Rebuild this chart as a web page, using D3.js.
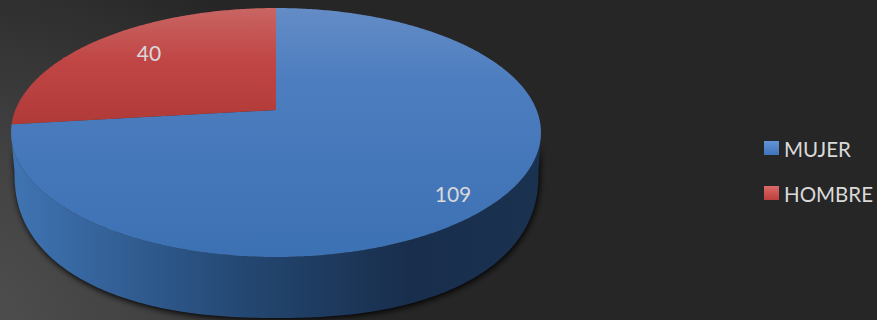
<!DOCTYPE html>
<html>
<head>
<meta charset="utf-8">
<script src="https://cdnjs.cloudflare.com/ajax/libs/d3/7.8.5/d3.min.js"></script>
<style>
  html, body { margin: 0; padding: 0; background: #262626; }
  svg { display: block; }
  text { font-family: Lato, "Open Sans", sans-serif; fill: #d9d9d9; }
</style>
</head>
<body>
<svg id="chart" width="877" height="320"></svg>
<script>
// Survey counts by sex
const categories = ["MUJER", "HOMBRE"];
const values = [109, 40];

const width = 877, height = 320;
const svg = d3.select("#chart");
const defs = svg.append("defs");

function linearGradient(id, x1, y1, x2, y2, stops) {
  const g = defs.append("linearGradient").attr("id", id)
    .attr("gradientUnits", "userSpaceOnUse")
    .attr("x1", x1).attr("y1", y1).attr("x2", x2).attr("y2", y2);
  stops.forEach(([o, c]) => g.append("stop").attr("offset", o).attr("stop-color", c));
}

// Slide-like backdrop, lighter toward the lower left corner
const bg = defs.append("radialGradient").attr("id", "backdrop")
  .attr("gradientUnits", "userSpaceOnUse")
  .attr("cx", -40).attr("cy", 340).attr("r", 420);
[[0, "#505050"], [0.45, "#424242"], [1, "#262626"]].forEach(([o, c]) =>
  bg.append("stop").attr("offset", o).attr("stop-color", c));
svg.append("rect").attr("width", width).attr("height", height).attr("fill", "#262626");
svg.append("rect").attr("width", width).attr("height", height).attr("fill", "url(#backdrop)");

linearGradient("topBlue", 0, 8, 0, 257, [[0, "#648cc6"], [0.3, "#4c7dbf"], [1, "#3c71b4"]]);
linearGradient("topRed", 0, 8, 0, 125, [[0, "#c96563"], [0.45, "#c04645"], [1, "#b03a38"]]);
linearGradient("wallBlue", 15, 0, 540, 0, [[0, "#3f74b2"], [0.2, "#325f95"], [0.45, "#234670"], [0.75, "#182e4c"], [1, "#1a3150"]]);
linearGradient("keyBlue", 0, -7, 0, 7, [[0, "#6494d4"], [1, "#3d74bb"]]);
linearGradient("keyRed", 0, -7, 0, 7, [[0, "#d96a68"], [1, "#bd3f3d"]]);

const blur = defs.append("filter").attr("id", "soft")
  .attr("x", "-10%").attr("y", "-10%").attr("width", "120%").attr("height", "120%");
blur.append("feGaussianBlur").attr("stdDeviation", 3);

// Tilted disc: a unit circle carried to the screen through a perspective map,
// so the nearer half of the ellipse reads larger than the far half.
const cx = 276, radius = 260.6, apexY = 110, slope = 100.55, persp = -0.1807;
const project = a => {
  const u = Math.sin(a), v = -Math.cos(a), w = 1 + persp * v;
  return [cx + radius * u / w, (slope * v + apexY) / w];
};

// Lower rim of the pie: a slightly squared half ellipse, since the far-off base
// bulges a little past a true ellipse under the strong perspective.
const rimCx = 276.5, rimRx = 262, rimY = 172, rimRy = 146, rimPower = 2 / 2.3;
const projectRim = t => {
  const c = Math.cos(t), s = Math.sin(t);
  return [
    rimCx + rimRx * Math.sign(c) * Math.pow(Math.abs(c), rimPower),
    rimY + rimRy * Math.pow(Math.abs(s), rimPower)
  ];
};

const line = d3.line();
const sample = (a0, a1, fn) => {
  const n = Math.max(2, Math.ceil(Math.abs(a1 - a0) * 90));
  return d3.range(n + 1).map(i => fn(a0 + (a1 - a0) * i / n));
};

const arcs = d3.pie().sort(null)(values);
const apex = [cx, apexY];
const fills = ["url(#topBlue)", "url(#topRed)"];

// Front wall runs between the two horizontal extremes of the disc
const frontA0 = Math.acos(persp);
const frontA1 = 2 * Math.PI - frontA0;
const wall = sample(frontA0, frontA1, project).concat(sample(Math.PI, 0, projectRim));

svg.append("path").attr("d", line(wall) + "Z")
  .attr("transform", "translate(1,2)")
  .attr("fill", "#000").attr("fill-opacity", 0.95).attr("filter", "url(#soft)");
svg.append("path").attr("d", line(wall) + "Z").attr("fill", "url(#wallBlue)");

// Top face slices
svg.selectAll("path.slice").data(arcs).join("path")
  .attr("class", "slice")
  .attr("fill", (d, i) => fills[i])
  .attr("d", d => line([apex].concat(sample(d.startAngle, d.endAngle, project))) + "Z");

// Value labels
const labelPos = [[453, 193], [149, 52]];
svg.selectAll("text.value").data(values).join("text")
  .attr("class", "value")
  .attr("x", (d, i) => labelPos[i][0])
  .attr("y", (d, i) => labelPos[i][1])
  .attr("text-anchor", "middle").attr("dominant-baseline", "central")
  .attr("font-size", 21)
  .text(d => d);

// Legend
const keyY = d3.scalePoint().domain(categories).range([148, 193]);
const legend = svg.selectAll("g.key").data(categories).join("g")
  .attr("class", "key")
  .attr("transform", d => `translate(764,${keyY(d)})`);
legend.append("rect").attr("x", 0).attr("y", -7).attr("width", 15).attr("height", 14)
  .attr("fill", (d, i) => i ? "url(#keyRed)" : "url(#keyBlue)");
legend.append("text").attr("x", 20).attr("y", 0.5)
  .attr("dominant-baseline", "central").attr("font-size", 20.5)
  .text(d => d);
</script>
</body>
</html>
